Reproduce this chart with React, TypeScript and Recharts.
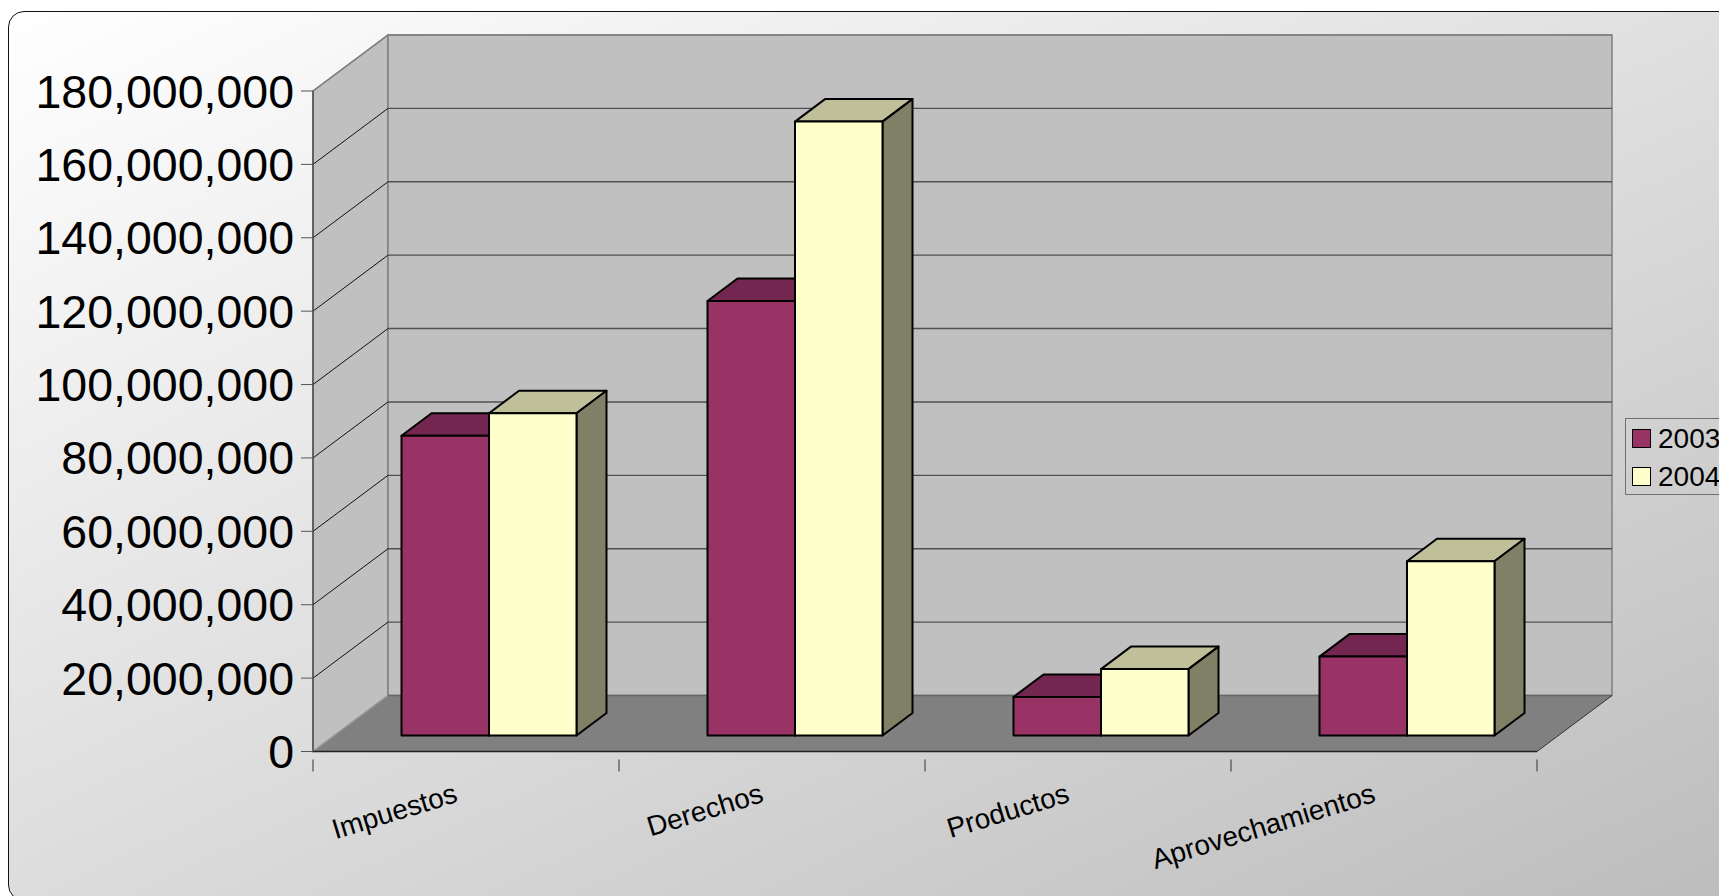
import { Bar, BarChart, Legend, ReferenceArea, XAxis, YAxis } from 'recharts'

const categories = ['Impuestos', 'Derechos', 'Productos', 'Aprovechamientos']
const values2003 = [81700000, 118400000, 10500000, 21500000]
const values2004 = [87800000, 167300000, 18100000, 47500000]
const yTicks = [0, 20000000, 40000000, 60000000, 80000000, 100000000, 120000000, 140000000, 160000000, 180000000]
const seriesNames = ['2003', '2004']

const chartData = categories.map((name, i) => ({ name, y2003: values2003[i], y2004: values2004[i] }))

const FONT = '"Liberation Sans", Arial, sans-serif'

// depth of the box the bars stand in
const WALL_DX = 75
const WALL_DY = 56
// bars stand a bit behind the front edge of the floor
const BAR_SHIFT_X = 22.5
const BAR_SHIFT_Y = 16
const BAR_DX = 30
const BAR_DY = 22.5

const COLORS = {
  y2003: { front: '#993366', top: '#732650', side: '#732650' },
  y2004: { front: '#ffffcc', top: '#bfbf99', side: '#808066' },
}

// side wall, back wall and floor, all derived from the plot rectangle
const Walls = ({ x, y, width, height }: any) => {
  const bottom = y + height
  const right = x + width
  return (
    <g>
      <polygon
        points={`${x},${y} ${x + WALL_DX},${y - WALL_DY} ${x + WALL_DX},${bottom - WALL_DY} ${x},${bottom}`}
        fill="#c0c0c0"
        stroke="#808080"
        strokeWidth={1.5}
      />
      <rect x={x + WALL_DX} y={y - WALL_DY} width={width} height={height} fill="#c0c0c0" stroke="#808080" strokeWidth={1.5} />
      <polygon
        points={`${x},${bottom} ${x + WALL_DX},${bottom - WALL_DY} ${right + WALL_DX},${bottom - WALL_DY} ${right},${bottom}`}
        fill="#808080"
      />
      <line x1={x + WALL_DX} y1={bottom - WALL_DY} x2={right + WALL_DX} y2={bottom - WALL_DY} stroke="#666666" strokeWidth={1.5} />
      <line x1={x} y1={bottom} x2={x + WALL_DX} y2={bottom - WALL_DY} stroke="#999999" strokeWidth={1.2} />
      <line x1={right} y1={bottom} x2={right + WALL_DX} y2={bottom - WALL_DY} stroke="#333333" strokeWidth={1} />
      <line x1={x} y1={y} x2={x} y2={bottom} stroke="#555555" strokeWidth={1.2} />
    </g>
  )
}

// one band per tick interval, only its upper edge is drawn, so the lines stay under the bars
const GridBand = ({ x, y, width, isTop }: any) => (
  <g>
    <line x1={x} y1={y} x2={x + WALL_DX} y2={y - WALL_DY} stroke={isTop ? '#808080' : '#111111'} strokeWidth={isTop ? 1.5 : 1} />
    <line
      x1={x + WALL_DX}
      y1={y - WALL_DY}
      x2={x + width + WALL_DX}
      y2={y - WALL_DY}
      stroke={isTop ? '#808080' : '#505050'}
      strokeWidth={1.4}
    />
  </g>
)

const Bar3D = ({ x, y, width, height, palette }: any) => {
  const left = x + BAR_SHIFT_X
  const top = y - BAR_SHIFT_Y
  const right = left + width
  const bottom = top + height
  return (
    <g stroke="#000000" strokeWidth={2} strokeLinejoin="round">
      <polygon
        points={`${left},${top} ${left + BAR_DX},${top - BAR_DY} ${right + BAR_DX},${top - BAR_DY} ${right},${top}`}
        fill={palette.top}
      />
      <polygon
        points={`${right},${top} ${right + BAR_DX},${top - BAR_DY} ${right + BAR_DX},${bottom - BAR_DY} ${right},${bottom}`}
        fill={palette.side}
      />
      <rect x={left} y={top} width={width} height={height} fill={palette.front} />
    </g>
  )
}

const CategoryTick = ({ x, y, payload, index }: any) => {
  const half = 153
  const labelX = x - 7
  const labelY = y + 42
  return (
    <g>
      <line x1={x - half} y1={y} x2={x - half} y2={y + 12} stroke="#333333" strokeWidth={1} />
      {index === categories.length - 1 && (
        <line x1={x + half} y1={y} x2={x + half} y2={y + 12} stroke="#333333" strokeWidth={1} />
      )}
      <text
        x={labelX}
        y={labelY}
        textAnchor="end"
        fontSize={28}
        fontFamily={FONT}
        fill="#000000"
        transform={`rotate(-17 ${labelX} ${labelY})`}
      >
        {payload.value}
      </text>
    </g>
  )
}

const LegendBox = () => (
  <div
    style={{
      boxSizing: 'border-box',
      width: 130,
      height: 77,
      border: '1px solid #707070',
      fontFamily: FONT,
      fontSize: 28,
      color: '#000',
    }}
  >
    {seriesNames.map((name, i) => (
      <div key={name} style={{ position: 'absolute', left: 7, top: 11 + i * 38, height: 19, display: 'flex', alignItems: 'center' }}>
        <span
          style={{
            display: 'inline-block',
            boxSizing: 'border-box',
            width: 19,
            height: 19,
            marginRight: 7,
            border: '1.5px solid #000',
            background: i === 0 ? COLORS.y2003.front : COLORS.y2004.front,
          }}
        />
        {name}
      </div>
    ))}
  </div>
)

export default function App() {
  return (
    <div style={{ position: 'absolute', left: 0, top: 0, width: 1719, height: 896, overflow: 'hidden', background: '#fff' }}>
      <div
        style={{
          position: 'absolute',
          left: 8,
          top: 11,
          width: 1760,
          height: 890,
          boxSizing: 'border-box',
          border: '1.5px solid #111',
          borderRadius: 16,
          background: 'linear-gradient(155deg, #ffffff 0%, #bcbcbc 100%)',
        }}
      />
      <div style={{ position: 'absolute', left: 0, top: 0 }}>
        <BarChart
          width={1719}
          height={896}
          data={chartData}
          margin={{ top: 91, right: 182, bottom: 0, left: 0 }}
          barSize={87.5}
          barGap={0}
        >
          <XAxis
            dataKey="name"
            height={144.5}
            interval={0}
            tickLine={false}
            axisLine={{ stroke: '#222222', strokeWidth: 1.5 }}
            tick={<CategoryTick />}
          />
          <YAxis
            width={313}
            domain={[0, 180000000]}
            ticks={yTicks}
            interval={0}
            tickSize={12}
            tickMargin={7}
            axisLine={{ stroke: '#555555' }}
            tickLine={{ stroke: '#555555', strokeWidth: 1 }}
            tick={{ fontSize: 46.5, fontFamily: FONT, fill: '#000000' }}
            tickFormatter={(v: number) => v.toLocaleString('en-US')}
          />
          <ReferenceArea y1={0} y2={180000000} shape={<Walls />} />
          {yTicks.slice(1).map((t, i) => (
            <ReferenceArea key={t} y1={yTicks[i]} y2={t} shape={<GridBand isTop={i === yTicks.length - 2} />} />
          ))}
          <Bar dataKey="y2003" name="2003" isAnimationActive={false} shape={<Bar3D palette={COLORS.y2003} />} />
          <Bar dataKey="y2004" name="2004" isAnimationActive={false} shape={<Bar3D palette={COLORS.y2004} />} />
          <Legend
            layout="vertical"
            align="center"
            verticalAlign="middle"
            content={<LegendBox />}
            wrapperStyle={{ position: 'absolute', left: 1625, top: 418, width: 130, height: 77, bottom: 'auto', right: 'auto' }}
          />
        </BarChart>
      </div>
    </div>
  )
}
